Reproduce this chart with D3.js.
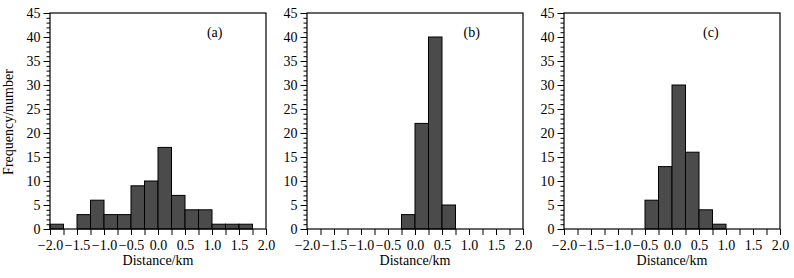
<!DOCTYPE html>
<html>
<head>
<meta charset="utf-8">
<script src="https://cdn.jsdelivr.net/npm/d3@7"></script>
<style>
  body { margin: 0; background: #fff; }
  svg text { font-family: "Liberation Serif", "Times New Roman", serif; }
</style>
</head>
<body>
<div id="chart"></div>
<script>
let width = 794,
    height = 278;

// bin left edges (km) and counts, bin width 0.25
const binWidth = 0.25;
const binsA = [-2.0, -1.75, -1.5, -1.25, -1.0, -0.75, -0.5, -0.25, 0.0, 0.25, 0.5, 0.75, 1.0, 1.25, 1.5];
const countsA = [1, 0, 3, 6, 3, 3, 9, 10, 17, 7, 4, 4, 1, 1, 1];
const binsB = [-0.25, 0.0, 0.25, 0.5];
const countsB = [3, 22, 40, 5];
const binsC = [-0.5, -0.25, 0.0, 0.25, 0.5, 0.75];
const countsC = [6, 13, 30, 16, 4, 1];

const xTicks = [-2.0, -1.5, -1.0, -0.5, 0.0, 0.5, 1.0, 1.5, 2.0];
const yTicks = [0, 5, 10, 15, 20, 25, 30, 35, 40, 45];
const labels = ["(a)", "(b)", "(c)"];
const labelX = [1.05, 1.05, 0.72];

const panels = [
  { left: 50, bins: binsA, counts: countsA },
  { left: 307, bins: binsB, counts: countsB },
  { left: 564, bins: binsC, counts: countsC }
];
const pw = 216, plotTop = 13, plotBottom = 229;
const fs = 14;

const svg = d3.select("#chart")
  .append("svg")
  .attr("width", width)
  .attr("height", height);

panels.forEach((p, i) => {
  let x = d3.scaleLinear().domain([-2, 2]).range([p.left, p.left + pw]);
  let y = d3.scaleLinear().domain([0, 45]).range([plotBottom, plotTop]);
  const g = svg.append("g");

  const data = p.bins.map((b, k) => ({ x0: b, n: p.counts[k] })).filter(d => d.n > 0);

  g.append("g")
    .selectAll("rect")
    .data(data)
    .join("rect")
    .attr("x", d => x(d.x0))
    .attr("y", d => y(d.n))
    .attr("width", d => x(d.x0 + binWidth) - x(d.x0))
    .attr("height", d => y(0) - y(d.n))
    .attr("fill", "#4b4b4b")
    .attr("stroke", "#000")
    .attr("stroke-width", 1);

  // frame
  g.append("rect")
    .attr("x", x(-2)).attr("y", y(45))
    .attr("width", x(2) - x(-2)).attr("height", y(0) - y(45))
    .attr("fill", "none").attr("stroke", "#000").attr("stroke-width", 1.2);

  // x axis: ticks every 0.25, labels every 0.5
  const xa = g.append("g")
    .attr("transform", `translate(0,${plotBottom})`)
    .call(d3.axisBottom(x).tickValues(d3.range(-2, 2.001, 0.25)).tickSize(6).tickSizeOuter(0).tickPadding(4)
      .tickFormat(d => xTicks.some(t => Math.abs(t - d) < 1e-9) ? d3.format(".1f")(d) : ""));
  xa.select(".domain").remove();
  xa.selectAll("text").attr("font-size", fs).attr("fill", "#000").attr("dy", "0.8em");
  xa.selectAll("line").attr("stroke", "#000");

  // y axis minor ticks (outward)
  const ym = g.append("g")
    .attr("transform", `translate(${p.left},0)`)
    .call(d3.axisLeft(y).tickValues(d3.range(0, 46, 1)).tickSize(3.5).tickFormat(""));
  ym.select(".domain").remove();
  ym.selectAll("line").attr("stroke", "#000");

  // y axis major ticks with labels
  const ya = g.append("g")
    .attr("transform", `translate(${p.left},0)`)
    .call(d3.axisLeft(y).tickValues(yTicks).tickSize(6.5).tickSizeOuter(0).tickPadding(3));
  ya.select(".domain").remove();
  ya.selectAll("line").attr("stroke", "#000");
  ya.selectAll("text").attr("font-size", fs).attr("fill", "#000");

  g.append("text")
    .attr("x", x(labelX[i]))
    .attr("y", y(41))
    .attr("dy", "0.35em")
    .attr("text-anchor", "middle")
    .attr("font-size", fs)
    .text(labels[i]);

  g.append("text")
    .attr("x", x(0))
    .attr("y", 265)
    .attr("text-anchor", "middle")
    .attr("font-size", fs)
    .text("Distance/km");
});

svg.append("text")
  .attr("transform", `translate(13,122) rotate(-90)`)
  .attr("text-anchor", "middle")
  .attr("font-size", fs)
  .text("Frequency/number");
</script>
</body>
</html>
